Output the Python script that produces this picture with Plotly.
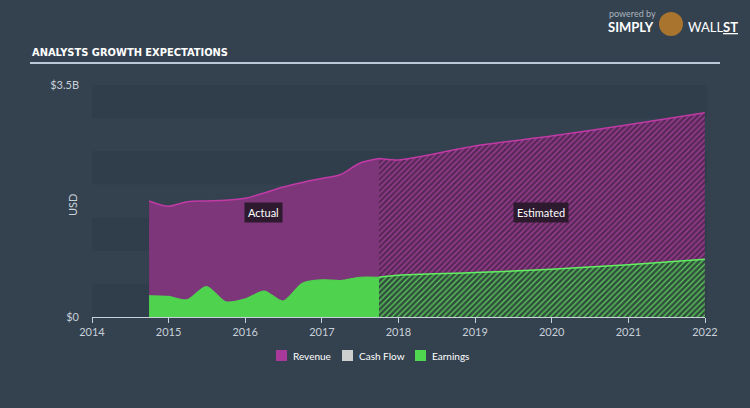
import plotly.graph_objects as go

# ---- data ----
actual_dates = ["2014-09-30", "2014-12-31", "2015-03-31", "2015-06-30", "2015-09-30",
                "2015-12-31", "2016-03-31", "2016-06-30", "2016-09-30", "2016-12-31",
                "2017-03-31", "2017-06-30", "2017-09-30"]
actual_revenue = [1.75, 1.67, 1.74, 1.75, 1.76, 1.79, 1.87, 1.96, 2.03, 2.09, 2.15, 2.32, 2.39]
actual_earnings = [0.32, 0.31, 0.26, 0.46, 0.23, 0.27, 0.39, 0.24, 0.51, 0.56, 0.55, 0.60, 0.60]

est_dates = ["2017-09-30", "2017-12-31", "2018-12-31", "2019-12-31", "2020-12-31", "2021-12-31"]
est_revenue = [2.39, 2.37, 2.58, 2.73, 2.90, 3.08]
est_earnings = [0.60, 0.63, 0.67, 0.72, 0.79, 0.87]

year_ticks = ["2014", "2015", "2016", "2017", "2018", "2019", "2020", "2021", "2022"]
y_tickvals = [0, 3.5]
y_ticktext = ["$0", "$3.5B"]
legend_names = ["Revenue", "Cash Flow", "Earnings"]
legend_colors = ["#a8399b", "#cfcfcf", "#4fd84f"]

PAPER = "#344250"
BAND = "#303d4b"
REV_FILL = "#7c3679"
REV_LINE = "#c13aa6"
EARN_FILL = "#4fd34f"
EARN_LINE = "#62f062"
TXT = "#c8d0d8"
FONT = "Lato, Open Sans, sans-serif"

# pixel helpers for layout placement (plot area 92..705 x, 85..317 y)
def px(x):
    return (x - 92) / 613

def py(y):
    return (317 - y) / 232

fig = go.Figure()

fig.add_trace(go.Scatter(x=actual_dates, y=actual_revenue, mode="lines",
                         line=dict(color=REV_LINE, width=1.5, shape="spline", smoothing=0.8),
                         fill="tozeroy", fillcolor=REV_FILL, showlegend=False, hoverinfo="skip"))
fig.add_trace(go.Scatter(x=est_dates, y=est_revenue, mode="lines",
                         line=dict(color=REV_LINE, width=1.5, shape="spline", smoothing=0.8),
                         fill="tozeroy", fillcolor="#5e2a5e",
                         fillpattern=dict(shape="/", fgcolor="#9a3f93", bgcolor="#5a2858",
                                          size=4, solidity=0.35, fillmode="replace"),
                         showlegend=False, hoverinfo="skip"))
fig.add_trace(go.Scatter(x=actual_dates, y=actual_earnings, mode="lines",
                         line=dict(color=EARN_FILL, width=1.2, shape="spline", smoothing=0.8),
                         fill="tozeroy", fillcolor=EARN_FILL, showlegend=False, hoverinfo="skip"))
fig.add_trace(go.Scatter(x=est_dates, y=est_earnings, mode="lines",
                         line=dict(color=EARN_LINE, width=1.5, shape="spline", smoothing=0.8),
                         fill="tozeroy", fillcolor="#3a6a40",
                         fillpattern=dict(shape="/", fgcolor="#5cc45c", bgcolor="#2f4f3c",
                                          size=4, solidity=0.35, fillmode="replace"),
                         showlegend=False, hoverinfo="skip"))

shapes = []
for lo in [0, 1.0, 2.0, 3.0]:
    shapes.append(dict(type="rect", xref="paper", yref="y", x0=0, x1=1.003, y0=lo, y1=lo + 0.5,
                       fillcolor=BAND, line=dict(width=0), layer="below"))
shapes.append(dict(type="line", xref="paper", yref="paper", x0=px(30), x1=px(720),
                   y0=py(63), y1=py(63), line=dict(color="#b9c9d8", width=2)))
# logo mark placeholder
shapes.append(dict(type="circle", xref="paper", yref="paper", x0=px(659), x1=px(683),
                   y0=py(36), y1=py(12), fillcolor="#a8742e", line=dict(width=0)))

annotations = [
    dict(text="ANALYSTS GROWTH EXPECTATIONS", xref="paper", yref="paper",
         x=px(30), y=py(53), xanchor="left", yanchor="middle", showarrow=False,
         font=dict(family="DejaVu Sans Condensed, sans-serif",
                   size=11, color="#ffffff", weight="bold")),
    dict(text="Actual", xref="paper", yref="y", x=px(263), y=1.57, xanchor="center",
         showarrow=False, bgcolor="#2d1a2f", borderpad=3,
         font=dict(family=FONT, size=11, color="#ffffff")),
    dict(text="Estimated", xref="paper", yref="y", x=px(541), y=1.57, xanchor="center",
         showarrow=False, bgcolor="#2d1a2f", borderpad=3,
         font=dict(family=FONT, size=11, color="#ffffff")),
    dict(text="USD", xref="paper", yref="paper", x=px(72), y=py(205), textangle=-90,
         xanchor="center", yanchor="middle", showarrow=False,
         font=dict(family=FONT, size=11, color=TXT)),
    dict(text="powered by", xref="paper", yref="paper", x=px(607), y=py(14),
         xanchor="left", yanchor="middle", showarrow=False,
         font=dict(family=FONT, size=9, color="#aab4be")),
    dict(text="<b>SIMPLY</b>", xref="paper", yref="paper", x=px(606), y=py(27),
         xanchor="left", yanchor="middle", showarrow=False,
         font=dict(family=FONT, size=13, color="#ffffff")),
    dict(text="WALL<u><b>ST</b></u>", xref="paper", yref="paper", x=px(686), y=py(27),
         xanchor="left", yanchor="middle", showarrow=False,
         font=dict(family=FONT, size=13, color="#ffffff")),
]

# manual legend
legend_x = [276, 342, 415]
for name, col, lx in zip(legend_names, legend_colors, legend_x):
    shapes.append(dict(type="rect", xref="paper", yref="paper", x0=px(lx), x1=px(lx + 11),
                       y0=py(361), y1=py(350), fillcolor=col, line=dict(width=0)))
    annotations.append(dict(text=name, xref="paper", yref="paper", x=px(lx + 15), y=py(356),
                            xanchor="left", yanchor="middle", showarrow=False,
                            font=dict(family=FONT, size=10, color="#ffffff")))

fig.update_layout(
    width=750, height=408,
    margin=dict(l=92, r=45, t=85, b=91),
    paper_bgcolor=PAPER, plot_bgcolor=PAPER,
    font=dict(family=FONT, color=TXT, size=11),
    shapes=shapes, annotations=annotations, showlegend=False,
    xaxis=dict(type="date", range=["2014-01-01", "2022-01-01"],
               tickvals=[y + "-01-01" for y in year_ticks], ticktext=year_ticks,
               showgrid=False, zeroline=False, showline=True, linecolor="#c8d0d8", linewidth=1,
               ticks="outside", ticklen=5, tickcolor="#c8d0d8",
               tickfont=dict(size=11, color=TXT)),
    yaxis=dict(range=[0, 3.5], tickvals=y_tickvals, ticktext=y_ticktext,
               showgrid=False, zeroline=False, showline=False, ticks="",
               ticklabelstandoff=12,
               tickfont=dict(size=11, color=TXT)),
)

fig.write_html("out.html")
